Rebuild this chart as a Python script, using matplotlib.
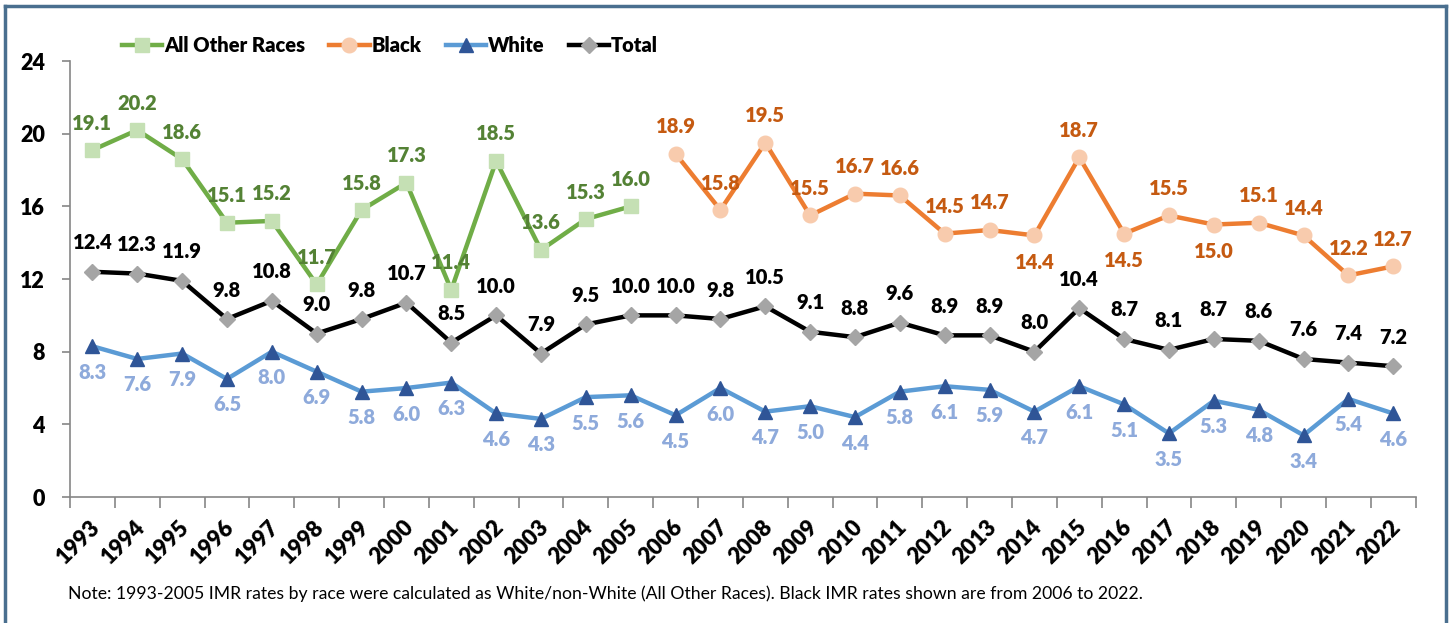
import numpy as np
import matplotlib.pyplot as plt
import matplotlib.transforms as mtransforms
from matplotlib.lines import Line2D

plt.rcParams['font.family'] = ['Lato', 'DejaVu Sans']

########## Data ##########
years = list(range(1993, 2023))

other_years = list(range(1993, 2006))
other_races = [19.1, 20.2, 18.6, 15.1, 15.2, 11.7, 15.8, 17.3, 11.4, 18.5, 13.6, 15.3, 16.0]

black_years = list(range(2006, 2023))
black = [18.9, 15.8, 19.5, 15.5, 16.7, 16.6, 14.5, 14.7, 14.4, 18.7, 14.5, 15.5,
         15.0, 15.1, 14.4, 12.2, 12.7]

white = [8.3, 7.6, 7.9, 6.5, 8.0, 6.9, 5.8, 6.0, 6.3, 4.6, 4.3, 5.5, 5.6, 4.5, 6.0,
         4.7, 5.0, 4.4, 5.8, 6.1, 5.9, 4.7, 6.1, 5.1, 3.5, 5.3, 4.8, 3.4, 5.4, 4.6]

total = [12.4, 12.3, 11.9, 9.8, 10.8, 9.0, 9.8, 10.7, 8.5, 10.0, 7.9, 9.5, 10.0, 10.0,
         9.8, 10.5, 9.1, 8.8, 9.6, 8.9, 8.9, 8.0, 10.4, 8.7, 8.1, 8.7, 8.6, 7.6, 7.4, 7.2]

note = ("Note: 1993-2005 IMR rates by race were calculated as White/non-White "
        "(All Other Races). Black IMR rates shown are from 2006 to 2022.")

##### Colours #####
green_line, green_mark, green_txt = "#70AD47", "#C5E0B4", "#548235"
orange_line, orange_mark, orange_txt = "#ED7D31", "#F8CBAD", "#C55A11"
blue_line, blue_mark, blue_txt = "#5B9BD5", "#2F5597", "#8EAADB"
black_line, gray_mark = "#000000", "#A5A5A5"

fig = plt.figure(figsize=(14.52, 6.23), dpi=100)
ax = fig.add_axes([0.0482, 0.2022, 0.9268, 0.6998])

def idx(yrs):
    return [years.index(y) for y in yrs]

lw, ms = 3.2, 9.5
ax.plot(idx(other_years), other_races, color=green_line, lw=lw, marker='s', ms=ms,
        mfc=green_mark, mec=green_mark, label="All Other Races", zorder=3)
ax.plot(idx(black_years), black, color=orange_line, lw=lw, marker='o', ms=ms + 1,
        mfc=orange_mark, mec=orange_mark, label="Black", zorder=3)
ax.plot(range(len(years)), white, color=blue_line, lw=lw, marker='^', ms=ms + 1,
        mfc=blue_mark, mec=blue_mark, label="White", zorder=3)
ax.plot(range(len(years)), total, color=black_line, lw=lw, marker='D', ms=ms - 1,
        mfc=gray_mark, mec=gray_mark, label="Total", zorder=3)

##### Data labels #####
def label_series(xs, vals, color, dy, below=()):
    for i, (x, v) in enumerate(zip(xs, vals)):
        off = -dy if i in below else dy
        ax.annotate(f"{v:.1f}", (x, v), xytext=(0, off), textcoords='offset pixels',
                    ha='center', va='center', fontsize=14.5, fontweight='heavy',
                    color=color, zorder=4)

label_series(idx(other_years), other_races, green_txt, 27)
label_series(idx(black_years), black, orange_txt, 27, below=(8, 10, 12))
label_series(range(len(years)), white, blue_txt, -26)
label_series(range(len(years)), total, "black", 29)

##### Axes #####
ax.set_ylim(0, 24)
ax.set_yticks(range(0, 25, 4))
ax.set_xlim(-0.5, len(years) - 0.5)
ax.set_xticks(range(len(years)))
ax.set_xticklabels([str(y) for y in years], rotation=45, ha='right', va='center',
                   rotation_mode='anchor', fontsize=16, fontweight='heavy')
ax.set_xticks(np.arange(-0.5, len(years), 1), minor=True)
ax.tick_params(axis='x', which='major', length=0, pad=0)
ax.tick_params(axis='x', which='minor', length=8, color="#868686", width=1.2)
ax.tick_params(axis='y', length=6, color="#868686", width=1.2, labelsize=15.5, pad=12)
for t in ax.get_yticklabels():
    t.set_fontweight('heavy')
shift = mtransforms.ScaledTranslation(0.04, -0.27, fig.dpi_scale_trans)
for t in ax.get_xticklabels():
    t.set_transform(t.get_transform() + shift)

for s in ['top', 'right']:
    ax.spines[s].set_visible(False)
for s in ['left', 'bottom']:
    ax.spines[s].set_color("#868686")
    ax.spines[s].set_linewidth(1.2)

##### Legend #####
leg = ax.legend(loc='upper left', bbox_to_anchor=(0.025, 1.1), ncol=4, frameon=False,
                handlelength=2.0, handletextpad=0.1, columnspacing=1.2,
                prop={'size': 14.5, 'weight': 'heavy'})

##### Note and frame #####
fig.text(0.047, 0.047, note, fontsize=12.7, ha='left', va='center')
border = "#4A6F8F"
fig.add_artist(Line2D([0.0035, 0.0035], [0, 0.99], color=border, lw=2.5))
fig.add_artist(Line2D([0.0035, 0.9962], [0.99, 0.99], color=border, lw=2.5))
fig.add_artist(Line2D([0.9962, 0.9962], [0, 0.99], color=border, lw=2.5))

fig.savefig("out.png", dpi=100)
